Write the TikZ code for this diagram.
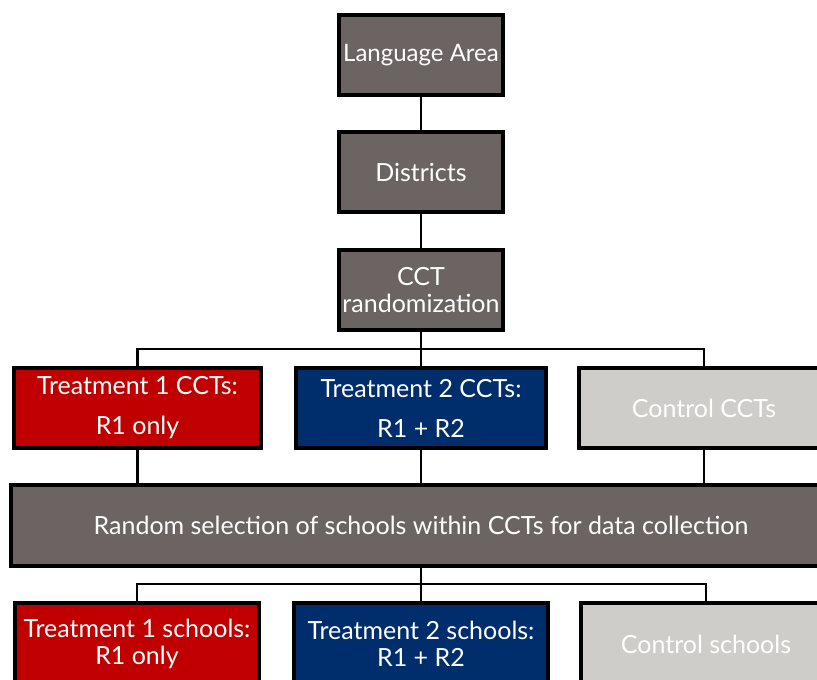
\documentclass[tikz,border=0pt]{standalone}
\usepackage{fontspec}
\setmainfont{Lato}
\usetikzlibrary{math}
\definecolor{boxgray}{HTML}{6B6462}
\definecolor{boxred}{HTML}{C00000}
\definecolor{boxblue}{HTML}{002E6D}
\definecolor{boxlight}{HTML}{CFCDCA}

\begin{document}
\begin{tikzpicture}[x=1pt, y=-1pt,
    box/.style={draw=black, line width=4pt, text=white, align=center,
      font=\fontsize{25}{27}\selectfont, inner sep=1pt, minimum height=80pt},
    step box/.style={box, fill=boxgray, minimum width=164pt},
    wide box/.style={box, fill=boxgray, minimum width=820pt},
    arm one/.style={box, fill=boxred, minimum width=247pt},
    arm two/.style={box, fill=boxblue, minimum width=250pt},
    arm ctrl/.style={box, fill=boxlight, minimum width=250pt},
    link/.style={line width=2.8pt}]
  \tikzmath{\colL = 137.5; \colM = 421; \colR = 704;}
  \useasboundingbox (0,0) rectangle (817,680);
  \clip (0,0) rectangle (817,680);

  % top chain
  \node[step box, font=\fontsize{24}{27}\selectfont] (lang) at (\colM,55) {Language Area};
  \node[step box] (dist) at (\colM,172) {Districts};
  \node[step box] (rand) at (\colM,290) {CCT\\randomization};

  % CCT arms
  \node[arm one] (t1cct) at (\colL,408) {Treatment 1 CCTs:\\[13pt]R1 only};
  \node[arm two] (t2cct) at (\colM,408) {Treatment 2 CCTs:\\[13pt]R1 + R2};
  \node[arm ctrl] (ctcct) at (\colR,408) {Control CCTs};

  % school selection
  \node[wide box, minimum height=81pt] (sel) at (\colM,525)
    {Random selection of schools within CCTs for data collection};

  % school arms
  \node[arm one, minimum width=244pt, minimum height=82pt] (t1sch) at (137,644) {Treatment 1 schools:\\R1 only};
  \node[arm two, minimum width=254pt, minimum height=82pt] (t2sch) at (\colM,644) {Treatment 2 schools:\\R1 + R2};
  \node[arm ctrl, minimum height=82pt] (ctsch) at (706,644) {Control schools};

  \coordinate (bus1) at (\colM,349);
  \coordinate (bus2) at (\colM,584);

  \draw[link] (lang) -- (dist);
  \draw[link] (dist) -- (rand);
  \draw[link] (rand) -- (t2cct);
  \draw[link] (t1cct.north) |- (bus1) -| (ctcct.north);
  \draw[link] (t1cct.south) -- (t1cct.south |- sel.north);
  \draw[link] (t2cct.south) -- (t2cct.south |- sel.north);
  \draw[link] (ctcct.south) -- (ctcct.south |- sel.north);
  \draw[link] (sel) -- (t2sch);
  \draw[link] (t1sch.north) |- (bus2) -| (ctsch.north);
\end{tikzpicture}
\end{document}
